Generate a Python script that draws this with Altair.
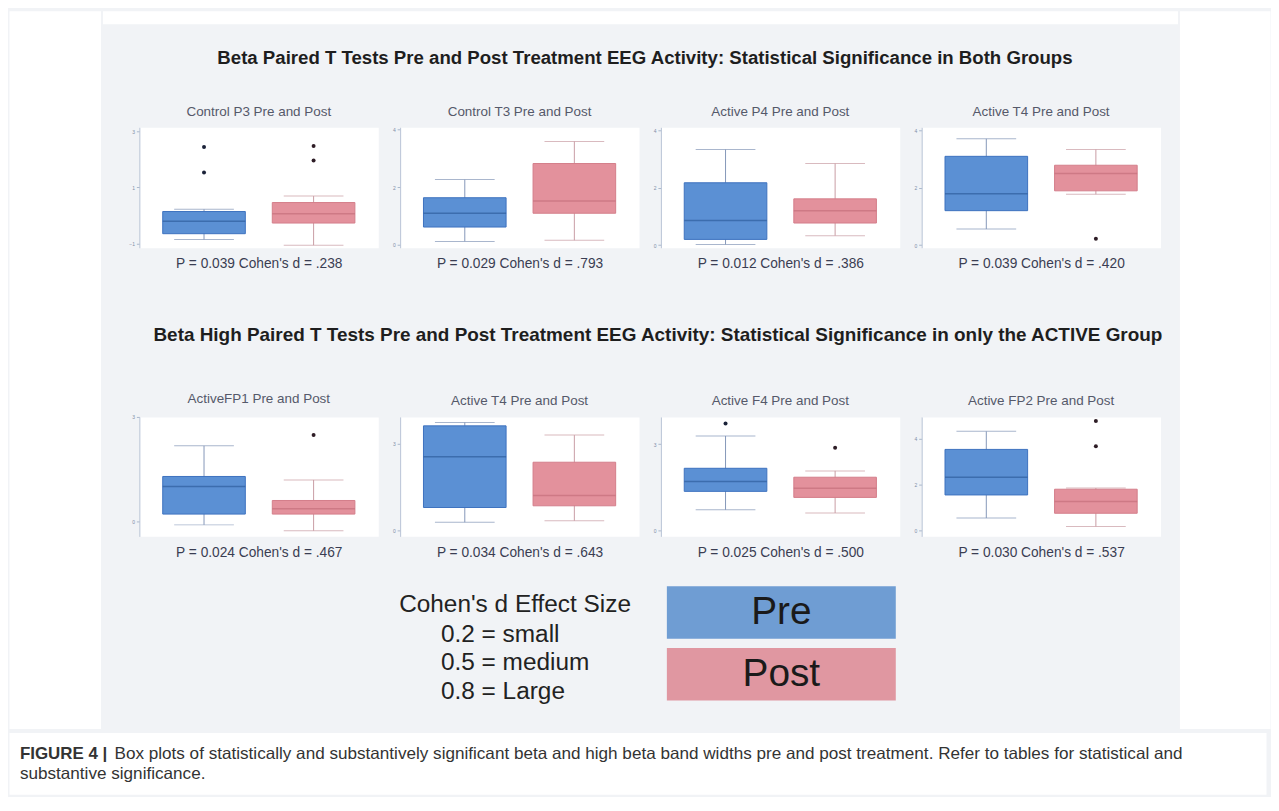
import altair as alt
import pandas as pd

GROUPS = ["Pre", "Post"]

main_titles = [
    "Beta Paired T Tests Pre and Post Treatment EEG Activity: Statistical Significance in Both Groups",
    "Beta High Paired T Tests Pre and Post Treatment EEG Activity: Statistical Significance in only the ACTIVE Group",
]

panel_titles = [
    "Control P3 Pre and Post", "Control T3 Pre and Post", "Active P4 Pre and Post", "Active T4 Pre and Post",
    "ActiveFP1 Pre and Post", "Active T4 Pre and Post", "Active F4 Pre and Post", "Active FP2 Pre and Post",
]
p_texts = [
    "P = 0.039 Cohen's d = .238", "P = 0.029 Cohen's d = .793", "P = 0.012 Cohen's d = .386", "P = 0.039 Cohen's d = .420",
    "P = 0.024 Cohen's d = .467", "P = 0.034 Cohen's d = .643", "P = 0.025 Cohen's d = .500", "P = 0.030 Cohen's d = .537",
]

# box statistics (whisker low, q1, median, q3, whisker high) per panel
pre_lo = [-0.86, 0.11, 0.02, 0.56, -0.10, 0.28, 0.72, 0.54]
pre_q1 = [-0.65, 0.61, 0.20, 1.20, 0.21, 0.79, 1.36, 1.55]
pre_med = [-0.21, 1.09, 0.86, 1.79, 1.00, 2.55, 1.70, 2.32]
pre_q3 = [0.14, 1.63, 2.17, 3.09, 1.29, 3.62, 2.16, 3.54]
pre_hi = [0.22, 2.26, 3.33, 3.70, 2.17, 3.74, 3.28, 4.33]

post_lo = [-1.06, 0.15, 0.33, 1.77, -0.27, 0.33, 0.61, 0.17]
post_q1 = [-0.27, 1.09, 0.77, 1.89, 0.21, 0.85, 1.15, 0.75]
post_med = [0.06, 1.52, 1.20, 2.49, 0.36, 1.21, 1.47, 1.26]
post_q3 = [0.46, 2.82, 1.61, 2.78, 0.60, 2.36, 1.85, 1.80]
post_hi = [0.69, 3.59, 2.84, 3.33, 1.19, 3.30, 2.07, 1.85]

outliers_pre = [[2.44, 1.53], [], [], [], [], [], [3.71], []]
outliers_post = [[2.47, 1.96], [], [], [0.22], [2.48], [], [2.87], [4.78, 3.68]]

y_domains = [[-1.15, 3.14], [-0.11, 4.08], [-0.09, 4.10], [-0.09, 4.10],
             [-0.43, 3.0], [-0.21, 3.93], [-0.20, 3.94], [-0.26, 4.96]]
y_ticks = [[-1, 0, 1, 2, 3], [0, 1, 2, 3, 4], [0, 1, 2, 3, 4], [0, 1, 2, 3, 4],
           [0, 1, 2, 3], [0, 1, 2, 3, 4], [0, 1, 2, 3, 4], [0, 1, 2, 3, 4, 5]]

cohen_header = "Cohen's d Effect Size"
cohen_lines = ["0.2 = small", "0.5 = medium", "0.8 = Large"]

caption_bold = "FIGURE 4 |"
caption_line1 = ("Box plots of statistically and substantively significant beta and high beta band widths "
                 "pre and post treatment. Refer to tables for statistical and")
caption_line2 = "substantive significance."

FONT = "Liberation Sans"
GRAY_BG = "#f1f3f6"
TRANSPARENT = alt.ViewBackground(fill="transparent", stroke="transparent")

# estimated extents of panel titles above / P texts below the plot areas
T_TOP = 24
T_BOT = 24
MAIN_H = 721


def spacer(w, h, fill="transparent"):
    return alt.Chart(pd.DataFrame({"z": [0]})).mark_text(text=" ", fontSize=1).encode(
        x=alt.value(w / 2), y=alt.value(h / 2)
    ).properties(width=w, height=h, view=alt.ViewBackground(fill=fill, stroke="transparent"))


def scale_for(rng):
    return alt.Scale(domain=GROUPS, range=rng)


XSCALE = dict(domain=GROUPS, paddingInner=0, paddingOuter=0.09)


def panel(i, height):
    box = pd.DataFrame({
        "group": GROUPS,
        "lo": [pre_lo[i], post_lo[i]],
        "q1": [pre_q1[i], post_q1[i]],
        "med": [pre_med[i], post_med[i]],
        "q3": [pre_q3[i], post_q3[i]],
        "hi": [pre_hi[i], post_hi[i]],
    })
    out = pd.DataFrame({
        "group": ["Pre"] * len(outliers_pre[i]) + ["Post"] * len(outliers_post[i]),
        "v": outliers_pre[i] + outliers_post[i],
    })
    xenc = alt.X("group:N", sort=GROUPS, scale=alt.Scale(**XSCALE),
                 axis=alt.Axis(title=p_texts[i], labels=False, ticks=False, domain=False,
                               titleFontSize=13.8, titleFontWeight="normal", titleColor="#3a3d52",
                               titleFont=FONT, titlePadding=9))
    yscale = alt.Scale(domain=y_domains[i], nice=False, zero=False)
    yaxis = alt.Axis(values=y_ticks[i], format="d", labelFontSize=5, labelColor="#7f8ea6",
                     tickColor="#a9b7cc", domainColor="#b8c4d6", tickSize=3, grid=False,
                     title=None, labelPadding=2)
    base = alt.Chart(box).encode(x=xenc)
    whisker_col = scale_for(["#8597b8", "#c99ca4"])
    whisk = base.mark_rule(strokeWidth=1).encode(
        y=alt.Y("lo:Q", scale=yscale, axis=yaxis), y2="hi:Q",
        color=alt.Color("group:N", scale=whisker_col, legend=None))
    cap_lo = base.mark_tick(size=60, thickness=1).encode(
        y=alt.Y("lo:Q", scale=yscale), color=alt.Color("group:N", scale=whisker_col, legend=None))
    cap_hi = base.mark_tick(size=60, thickness=1).encode(
        y=alt.Y("hi:Q", scale=yscale), color=alt.Color("group:N", scale=whisker_col, legend=None))
    boxes = base.mark_bar(size=83, strokeWidth=1).encode(
        y=alt.Y("q1:Q", scale=yscale), y2="q3:Q",
        fill=alt.Fill("group:N", scale=scale_for(["#5b90d4", "#e3919c"]), legend=None),
        stroke=alt.Stroke("group:N", scale=scale_for(["#3d72be", "#d47e8a"]), legend=None))
    median = base.mark_tick(size=83, thickness=1.5).encode(
        y=alt.Y("med:Q", scale=yscale),
        color=alt.Color("group:N", scale=scale_for(["#2f5e9e", "#c46f7c"]), legend=None))
    pts = alt.Chart(out).mark_circle(size=16, opacity=1).encode(
        x=alt.X("group:N", sort=GROUPS, scale=alt.Scale(**XSCALE)),
        y=alt.Y("v:Q", scale=yscale),
        color=alt.Color("group:N", scale=scale_for(["#1a2238", "#2e1d26"]), legend=None))
    layer = alt.layer(whisk, cap_lo, cap_hi, boxes, median, pts).resolve_scale(
        color="independent", fill="independent", stroke="independent")
    return layer.properties(
        width=240, height=height,
        view=alt.ViewBackground(fill="white", stroke="transparent"),
        title=alt.TitleParams(panel_titles[i], fontSize=13.5, fontWeight="normal", color="#55596a",
                              font=FONT, offset=9, anchor="middle"))


def text_block(text, x, y, size, weight="normal", align="center", color="#1e1e1e"):
    return alt.Chart(pd.DataFrame({"t": [text]})).mark_text(
        fontSize=size, fontWeight=weight, align=align, baseline="middle", font=FONT, color=color
    ).encode(text="t:N", x=alt.value(x), y=alt.value(y))


def title_chart(text, w, h, xc, yc, size):
    return text_block(text, xc, yc, size, weight="bold").properties(width=w, height=h, view=TRANSPARENT)


row1 = alt.hconcat(spacer(15, 121), *[panel(i, 121) for i in range(4)], spacing=22, bounds="flush")
row2 = alt.hconcat(spacer(15, 120), *[panel(i, 120) for i in range(4, 8)], spacing=22, bounds="flush")

LEG_H = 195 - T_BOT - 1
cohen = alt.layer(
    text_block(cohen_header, 298, 68 - T_BOT, 24.5, align="left", color="#222222"),
    text_block(cohen_lines[0], 340, 98 - T_BOT, 24.5, align="left", color="#222222"),
    text_block(cohen_lines[1], 340, 126 - T_BOT, 24.5, align="left", color="#222222"),
    text_block(cohen_lines[2], 340, 155 - T_BOT, 24.5, align="left", color="#222222"),
).properties(width=547, height=LEG_H, view=TRANSPARENT)

legend_df = pd.DataFrame({"group": GROUPS})
ly = alt.Y("group:N", sort=GROUPS, axis=None,
           scale=alt.Scale(domain=GROUPS, range=[49 - T_BOT, 164 - T_BOT], paddingInner=0.15, paddingOuter=0))
swatches = alt.Chart(legend_df).mark_rect().encode(
    y=ly, fill=alt.Fill("group:N", scale=scale_for(["#6f9dd3", "#e097a1"]), legend=None))
swatch_text = alt.Chart(legend_df).mark_text(fontSize=39, font=FONT, color="#1a1a1a", baseline="middle").encode(
    y=ly, x=alt.value(115), text="group:N")
legend_boxes = alt.layer(swatches, swatch_text).properties(width=230, height=LEG_H, view=TRANSPARENT)

legend_row = alt.hconcat(cohen, legend_boxes, spacing=20, bounds="flush")

main = alt.vconcat(
    spacer(1080, 13, "white"),
    title_chart(main_titles[0], 1080, 102 - T_TOP, 545, 32, 18.7),
    row1,
    title_chart(main_titles[1], 1080, 167 - T_TOP - T_BOT, 558, 87 - T_BOT, 19),
    row2,
    legend_row,
    spacing=0,
)

caption = alt.layer(
    text_block(caption_bold, 11, 22, 17, weight="bold", align="left", color="#333333"),
    text_block(caption_line1, 106, 22, 17.2, align="left", color="#333333"),
    text_block(caption_line2, 11, 42, 17.2, align="left", color="#333333"),
).properties(width=1263, height=62, view=alt.ViewBackground(fill="white", stroke="transparent"))

chart = alt.vconcat(
    alt.hconcat(spacer(92, MAIN_H, "white"), main, spacer(91, MAIN_H, "white"), spacing=0),
    caption,
    spacing=0,
).properties(
    background=GRAY_BG,
    padding={"left": 0, "top": 0, "right": 0, "bottom": 0},
).configure_view(stroke="transparent")

chart.save("out.html", embed_options={"renderer": "svg", "actions": False})
